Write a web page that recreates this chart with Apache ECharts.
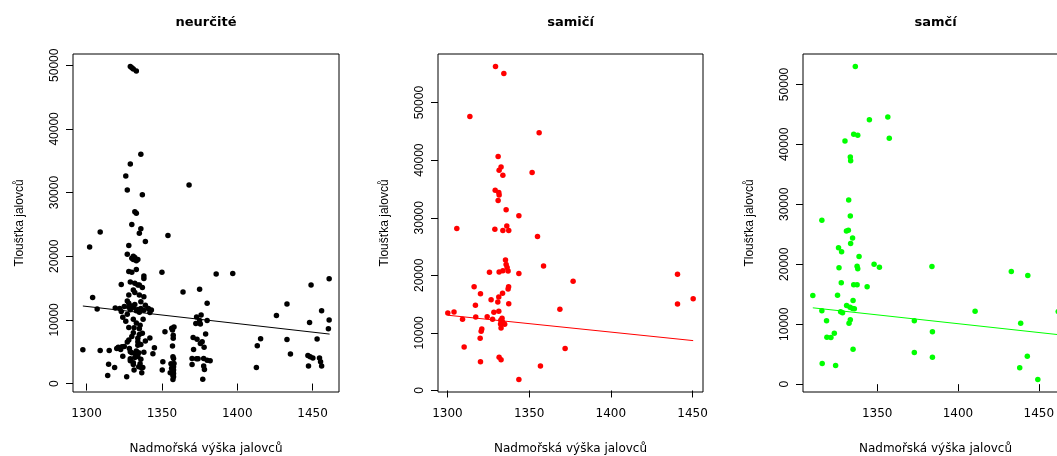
<!DOCTYPE html>
<html><head><meta charset="utf-8">
<script src="https://cdn.jsdelivr.net/npm/echarts@6/dist/echarts.min.js"></script>
<style>html,body{margin:0;padding:0;background:#fff}#c{width:1057px;height:456px}</style>
</head><body><div id="c"></div>
<script>
// ---- texts ----
const panelTitles = ['neurčité', 'samičí', 'samčí'];
const xAxisTitle = 'Nadmořská výška jalovců';
const yAxisTitle = 'Tloušťka jalovců';

// ---- tick labels ----
const xTicksNeurcite = [1300, 1350, 1400, 1450];
const xTicksSamici = [1300, 1350, 1400, 1450];
const xTicksSamci = [1350, 1400, 1450];
const yTicks = [0, 10000, 20000, 30000, 40000, 50000];

// ---- data: [altitude, thickness] ----
const neurcitePoints = [
 [1329,49800],[1331,49400],[1333,49100],[1330,49600],
 [1336,36000],[1329,34500],[1326,32600],[1327,30400],[1337,29650],[1368,31200],
 [1332,27000],[1333,26750],[1330,25000],[1336,24300],[1335,23600],[1309,23800],[1354,23250],[1339,22300],[1302,21450],[1328,21700],
 [1327,20300],[1331,20000],[1332,19800],[1334,19500],[1331,19500],[1330,19700],[1333,19300],
 [1328,17600],[1330,17500],[1350,17500],[1386,17200],[1397,17300],[1338,16900],[1338,16500],[1333,17900],
 [1323,15550],[1329,15950],[1332,15750],[1334,15500],[1335,15500],[1337,15100],[1449,15500],[1461,16450],
 [1364,14400],[1375,14800],[1332,14300],[1331,14700],[1328,13900],[1335,13900],[1338,13650],[1304,13500],
 [1336,12850],[1327,12950],[1328,12600],[1380,12600],[1433,12500],[1332,12400],[1339,12300],[1325,12100],
 [1328,12000],[1331,11970],[1330,12200],[1319,11850],[1322,11800],[1323,11300],[1334,11650],[1336,11800],[1338,11500],
 [1341,11800],[1343,11550],[1307,11700],[1333,11450],[1342,11150],[1329,11600],[1335,11200],
 [1327,10900],[1324,10400],[1331,10100],[1337.5,10100],[1373,10450],[1376,10750],[1426,10700],[1456,11450],
 [1380,9900],[1375,9900],[1461,9980],[1448,9600],[1372.5,9450],[1375.5,9350],[1335.5,9150],[1333,9500],[1326,9800],
 [1328,8800],[1331.5,8770],[1335,8600],[1358,8900],[1357,8400],[1356.5,8700],[1352,8150],[1379,7800],[1460.5,8600],
 [1331,8000],[1337,7900],[1335,7700],[1330,7400],[1334,7100],[1342,7150],[1328,6830],[1334,6570],[1339,6700],[1336,6150],[1334,6000],
 [1357.5,7600],[1357.5,7100],[1357,5900],[1370.7,7250],[1373.3,6950],[1376.7,6570],[1375.5,6300],[1378,5700],[1371,5360],
 [1453,6990],[1433,6935],[1415.5,7050],[1413.3,5940],
 [1297.5,5300],[1309,5200],[1315,5200],[1321,5700],[1323.5,5780],[1322.6,5360],[1325,5830],[1327,6520],[1328.4,5520],[1320,5500],
 [1345,5620],[1344,4700],[1333,5100],[1329,5000],[1338,4900],
 [1330,4840],[1332.4,4730],[1333,4520],[1334.6,4840],[1324,4300],[1329,3890],[1332,4100],[1334,4260],[1336,3800],[1329,3600],[1331,3000],
 [1314.6,3050],[1318.6,2530],[1331,3260],[1335.5,3100],[1336.4,2480],[1334.6,2630],[1337.3,2530],[1331.5,2110],[1326.6,1060],[1314,1270],[1336.6,1690],
 [1350.6,3420],[1350.2,2110],[1356,3100],[1358,3160],[1356.4,2420],[1357.5,1850],[1355.5,1690],[1357.3,1270],[1357.3,640],
 [1357.3,4200],[1357.7,3940],[1357.7,2630],[1357.7,2110],[1357.7,1580],[1357.7,1060],
 [1370,3000],[1370,3940],[1372.9,3890],[1374,3890],[1377.7,3940],[1380,3680],[1382,3580],[1377.7,2740],[1378.2,2210],[1377.1,690],
 [1435.3,4630],[1446.9,4420],[1448.4,4210],[1450.2,4000],[1454.6,4000],[1455.3,3420],[1456,2740],[1447.3,2740],[1412.7,2530]
];
const samiciPoints = [
 [1329.4,56270],[1334.5,55060],[1313.7,47600],[1356.1,44780],[1331,40620],[1332.8,38820],[1331.6,38250],[1333.9,37380],[1351.8,37850],
 [1329.2,34780],[1331.4,34380],[1331.6,33970],[1331,33000],[1335.9,31370],[1343.7,30330],[1305.7,28140],[1329,28020],[1333.9,27800],
 [1337.5,27800],[1336.3,28590],[1355.1,26760],[1335.5,22650],[1335.9,21900],[1336.5,21380],[1337.1,20740],[1331.6,20570],[1333.9,20800],
 [1325.7,20520],[1343.7,20340],[1358.8,21610],[1376.9,18960],[1316.3,18020],[1337.4,18020],[1337.1,17620],[1320.2,16810],[1333.7,16880],
 [1331.4,16240],[1326.7,15770],[1330.8,15370],[1337.5,15080],[1317.1,14800],[1368.8,14110],[1331.4,13760],[1328.4,13590],[1300.2,13470],
 [1304,13640],[1317.3,12770],[1324.3,12820],[1327.6,12370],[1333.4,12550],[1309.2,12370],[1333.5,12000],[1334,11700],[1335,11500],
 [1332.5,11560],[1332.8,10870],[1321,10690],[1320.6,10290],[1320,9080],[1310.2,7570],[1372,7280],[1331.6,5790],[1332.8,5320],
 [1320.2,4970],[1356.9,4230],[1343.7,1910],[1440.8,20170],[1440.8,15030],[1450.4,15940],[1332.6,12200]
];
const samciPoints = [
 [1336.5,52990],[1345.2,44130],[1356.6,44580],[1330.1,40580],[1335.5,41680],[1338,41510],[1357.5,41010],[1333.4,37910],[1333.6,37290],
 [1332.4,30740],[1333.4,28070],[1315.8,27340],[1331,25570],[1332.2,25670],[1334.8,24400],[1333.6,23450],[1326.1,22740],[1328,22070],
 [1338.8,21290],[1348.1,20000],[1351.4,19500],[1383.9,19620],[1337.6,19670],[1338,19240],[1326.4,19400],[1327.8,16900],[1335.5,16570],
 [1337.6,16570],[1343.8,16240],[1310.2,14790],[1325.5,14840],[1335.1,13950],[1331.1,13120],[1333.2,12840],[1334.8,12620],[1335.9,12570],
 [1327.4,12070],[1328.6,11900],[1315.8,12240],[1318.7,10570],[1333.4,10740],[1332.6,10170],[1373,10570],[1410.6,12170],[1462,12120],
 [1438.8,10170],[1384.2,8740],[1318.9,7840],[1321.4,7790],[1323.5,8500],[1335.1,5840],[1373,5280],[1384.2,4500],[1316,3450],[1324.3,3120],
 [1433,18790],[1443.2,18120],[1442.9,4670],[1438.2,2730],[1449.4,780]
];

// ---- fitted trend lines (endpoints) ----
const neurciteFit = [[1297.5,12180],[1461.3,7770]];
const samiciFit = [[1300.2,13070],[1450.4,8660]];
const samciFit = [[1310.2,12735],[1462,8260]];

const colors = ['#000000', '#ff0000', '#00ff00'];

function rRange(vals) {
  const mn = Math.min.apply(null, vals), mx = Math.max.apply(null, vals);
  const d = (mx - mn) * 0.04;
  return [mn - d, mx + d];
}

const panels = [
  {pts: neurcitePoints, fit: neurciteFit, xt: xTicksNeurcite},
  {pts: samiciPoints, fit: samiciFit, xt: xTicksSamici},
  {pts: samciPoints, fit: samciFit, xt: xTicksSamci}
];
const gridBoxes = [
  {left: 73, top: 54, width: 266, height: 338},
  {left: 438, top: 54, width: 265, height: 338},
  {left: 803, top: 54, width: 265, height: 338}
];

const HFONT = 'DejaVu Sans';
const VFONT = 'Liberation Sans, Arial, sans-serif';
const plain = v => String(Math.round(v));

const grid = [], xAxis = [], yAxis = [], series = [];
panels.forEach((p, i) => {
  const xr = rRange(p.pts.map(d => d[0]));
  const yr = rRange(p.pts.map(d => d[1]));
  grid.push(Object.assign({show: true, borderColor: '#000', borderWidth: 1, backgroundColor: 'transparent',
    containLabel: false, outerBoundsMode: 'none'}, gridBoxes[i]));
  xAxis.push({
    type: 'value', gridIndex: i, position: 'bottom', min: xr[0], max: xr[1],
    axisLine: {show: false}, splitLine: {show: false},
    axisTick: {show: true, length: 7, customValues: p.xt, lineStyle: {color: '#000', width: 1}},
    axisLabel: {show: true, customValues: p.xt, formatter: plain, color: '#000', fontFamily: HFONT, fontSize: 12, margin: 16},
    name: xAxisTitle, nameLocation: 'middle', nameGap: 51,
    nameTextStyle: {color: '#000', fontFamily: HFONT, fontSize: 12}
  });
  xAxis.push({
    type: 'value', gridIndex: i, position: 'top', min: xr[0], max: xr[1],
    axisLine: {show: false}, splitLine: {show: false}, axisTick: {show: false}, axisLabel: {show: false},
    name: panelTitles[i], nameLocation: 'middle', nameGap: 25,
    nameTextStyle: {color: '#000', fontFamily: HFONT, fontSize: 13, fontWeight: 'bold'}
  });
  yAxis.push({
    type: 'value', gridIndex: i, min: yr[0], max: yr[1],
    axisLine: {show: false}, splitLine: {show: false},
    axisTick: {show: true, length: 7, customValues: yTicks, lineStyle: {color: '#000', width: 1}},
    axisLabel: {show: true, customValues: yTicks, formatter: plain, rotate: 90, color: '#000', fontFamily: VFONT, fontSize: 12, margin: 12},
    name: yAxisTitle, nameLocation: 'middle', nameGap: 47, nameRotate: 90,
    nameTextStyle: {color: '#000', fontFamily: VFONT, fontSize: 12}
  });
  series.push({
    type: 'scatter', xAxisIndex: i * 2, yAxisIndex: i, data: p.pts,
    symbol: 'circle', symbolSize: 5.5, itemStyle: {color: colors[i], opacity: 1},
    emphasis: {disabled: true}, animation: false, z: 3
  });
  series.push({
    type: 'line', xAxisIndex: i * 2, yAxisIndex: i, data: p.fit,
    showSymbol: false, symbol: 'none', lineStyle: {color: colors[i], width: 1},
    emphasis: {disabled: true}, animation: false, z: 2
  });
});

const chart = echarts.init(document.getElementById('c'));
chart.setOption({
  backgroundColor: '#ffffff',
  animation: false,
  grid: grid, xAxis: xAxis, yAxis: yAxis, series: series
});
</script>
</body></html>
